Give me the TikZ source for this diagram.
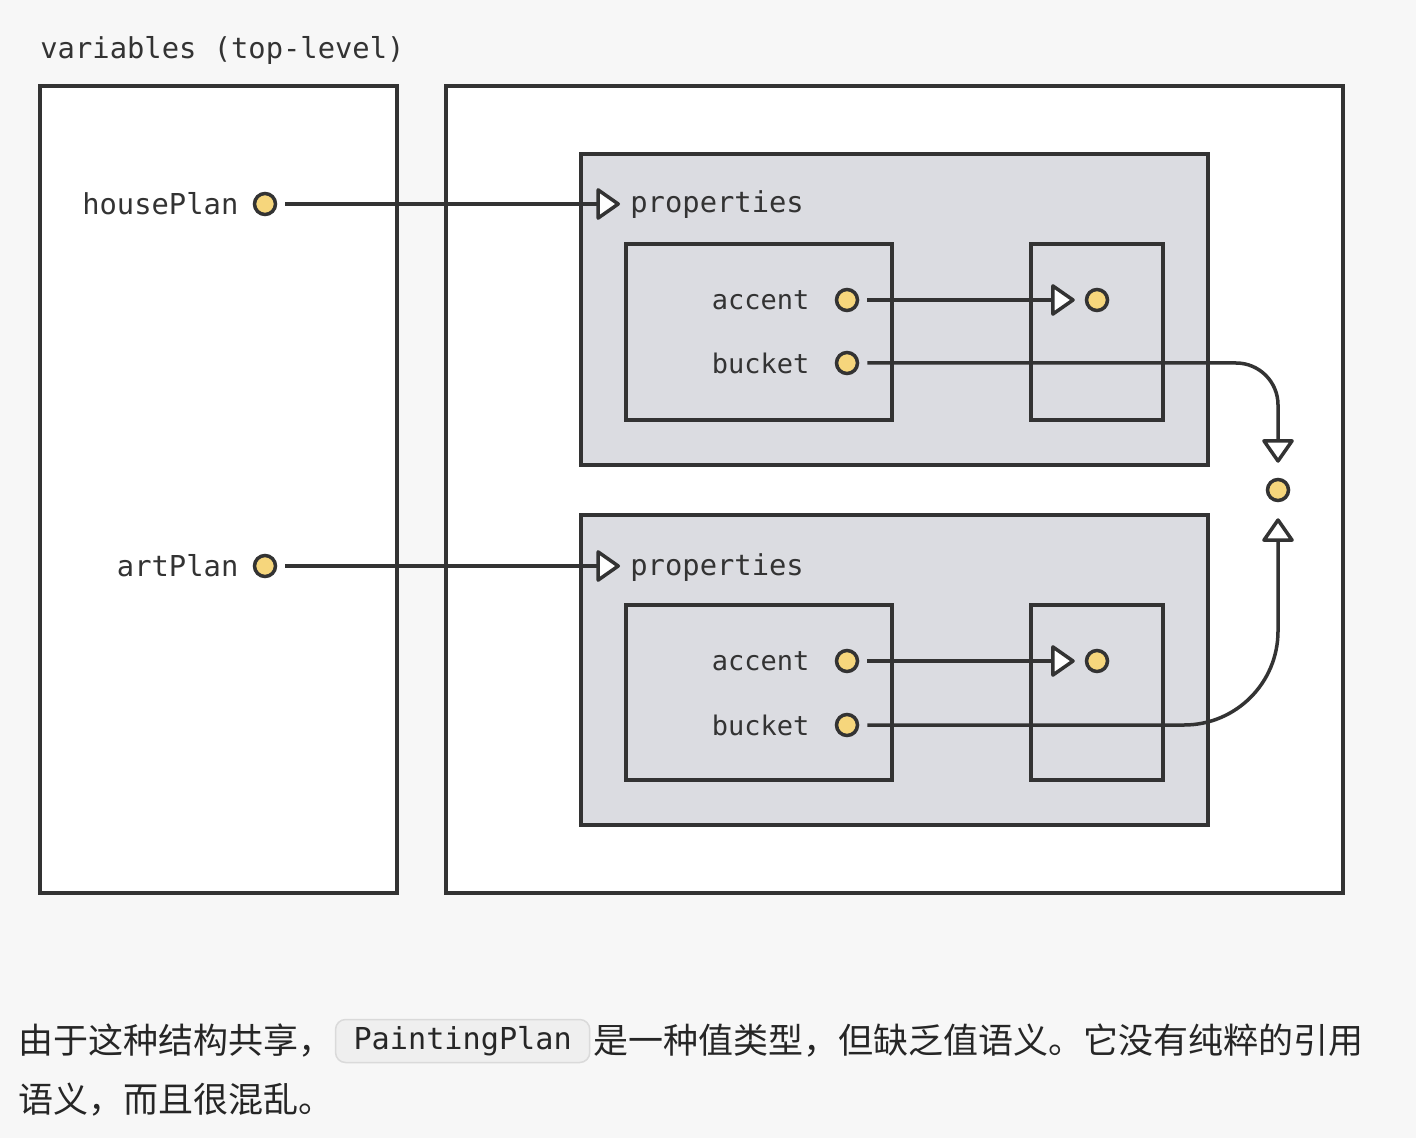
\documentclass[tikz,border=0pt]{standalone}
\usepackage{fontspec}
\setmonofont{DejaVu Sans Mono}
\newfontfamily\cjk{Noto Sans CJK SC}
\usetikzlibrary{positioning}
\usetikzlibrary{arrows.meta}
\definecolor{bgcol}{HTML}{F7F7F7}
\definecolor{ink}{HTML}{333333}
\definecolor{heapgray}{HTML}{DBDCE1}
\definecolor{dotyellow}{HTML}{F6D67C}
\definecolor{codefill}{HTML}{EFEFEF}
\definecolor{codeline}{HTML}{DADADA}
\tikzset{
    frame/.style = {rectangle, draw=ink, line width=2pt, fill=white},
    objbox/.style = {rectangle, draw=ink, line width=2pt, fill=heapgray},
    slot/.style = {circle, draw=ink, line width=1.75pt, fill=dotyellow, minimum size=10.5pt, inner sep=0pt},
    txt/.style = {inner sep=0pt, text=ink, font=\ttfamily\fontsize{14.4pt}{17pt}\selectfont},
    fieldtxt/.style = {inner sep=0pt, text=ink, font=\ttfamily\fontsize{13.5pt}{16pt}\selectfont},
    cjktxt/.style = {inner sep=0pt, text=black!85, font=\cjk\fontsize{17.5pt}{21pt}\selectfont},
    code/.style = {rectangle, rounded corners=5pt, draw=codeline, line width=0.75pt, fill=codefill, minimum height=21.5pt, inner xsep=9pt, text=black!85, font=\ttfamily\fontsize{15.1pt}{18pt}\selectfont},
    ref/.style = {line width=1.75pt, draw=ink, shorten <=4pt, -{Triangle[length=12.5pt,width=17pt,line width=1.75pt,fill=white,round]}},
}

\begin{document}
\begin{tikzpicture}[x=0.5pt,y=-0.5pt]
\fill[bgcol] (0,0) rectangle (1416,1138);
\node[txt, anchor=base west] (title) at (40,59) {variables (top-level)};
%
\node[frame, minimum width=178.5pt, minimum height=403.5pt] (vars) at (218.5,489.5) {};
\node[frame, minimum width=448.5pt, minimum height=403.5pt] (heap) at (894.5,489.5) {};
\node[objbox, minimum width=313.5pt, minimum height=155.5pt] (obj1) at (894.5,309.5) {};
\node[objbox, minimum width=313.5pt, minimum height=155pt] (obj2) at (894.5,670) {};
\node[objbox, minimum width=133pt, minimum height=88pt] (fields1) at (759,332) {};
\node[objbox, minimum width=66pt, minimum height=88pt] (accbox1) at (1097,332) {};
\node[objbox, minimum width=133pt, minimum height=87.5pt] (fields2) at (759,692.5) {};
\node[objbox, minimum width=66pt, minimum height=87.5pt] (accbox2) at (1097,692.5) {};
%
\node[slot] at (265,204) (hp) {};
\node[slot] at (265,566) (ap) {};
\node[txt, left=7pt of hp] (hpname) {housePlan};
\node[txt, left=7pt of ap] (apname) {artPlan};
\node[txt, anchor=base west] at (630,213) (prop1) {properties};
\node[txt, anchor=base west] at (630,575) (prop2) {properties};
%
\node[slot] at (847,300) (a1) {};
\node[slot] at (847,363) (b1) {};
\node[slot] at (1097,300) (t1) {};
\node[slot] at (847,661) (a2) {};
\node[slot] at (847,725) (b2) {};
\node[slot] at (1097,661) (t2) {};
\node[slot] at (1278,490) (shared) {};
\node[fieldtxt, left=12.5pt of a1] (a1name) {accent};
\node[fieldtxt, left=12.5pt of b1] (b1name) {bucket};
\node[fieldtxt, left=12.5pt of a2] (a2name) {accent};
\node[fieldtxt, left=12.5pt of b2] (b2name) {bucket};
%
\draw[ref, shorten >=5pt] (hp.east) -- (hp.east -| prop1.west);
\draw[ref, shorten >=5pt] (ap.east) -- (ap.east -| prop2.west);
\draw[ref, shorten >=5pt] (a1.east) -- (t1.west);
\draw[ref, shorten >=5pt] (a2.east) -- (t2.west);
\draw[ref, shorten >=7.5pt, rounded corners=21pt] (b1.east) -| (shared);
\draw[ref, shorten >=8pt, rounded corners=47pt] (b2.east) -| (shared);
%
\node[cjktxt, anchor=west] at (18,1041) (line1a) {由于这种结构共享，};
\node[code, right=0.5pt of line1a] (codeword) {PaintingPlan};
\node[cjktxt, right=1.5pt of codeword] (line1b) {是一种值类型，但缺乏值语义。它没有纯粹的引用};
\node[cjktxt, anchor=west] at (18,1100) (line2) {语义，而且很混乱。};
\end{tikzpicture}
\end{document}
